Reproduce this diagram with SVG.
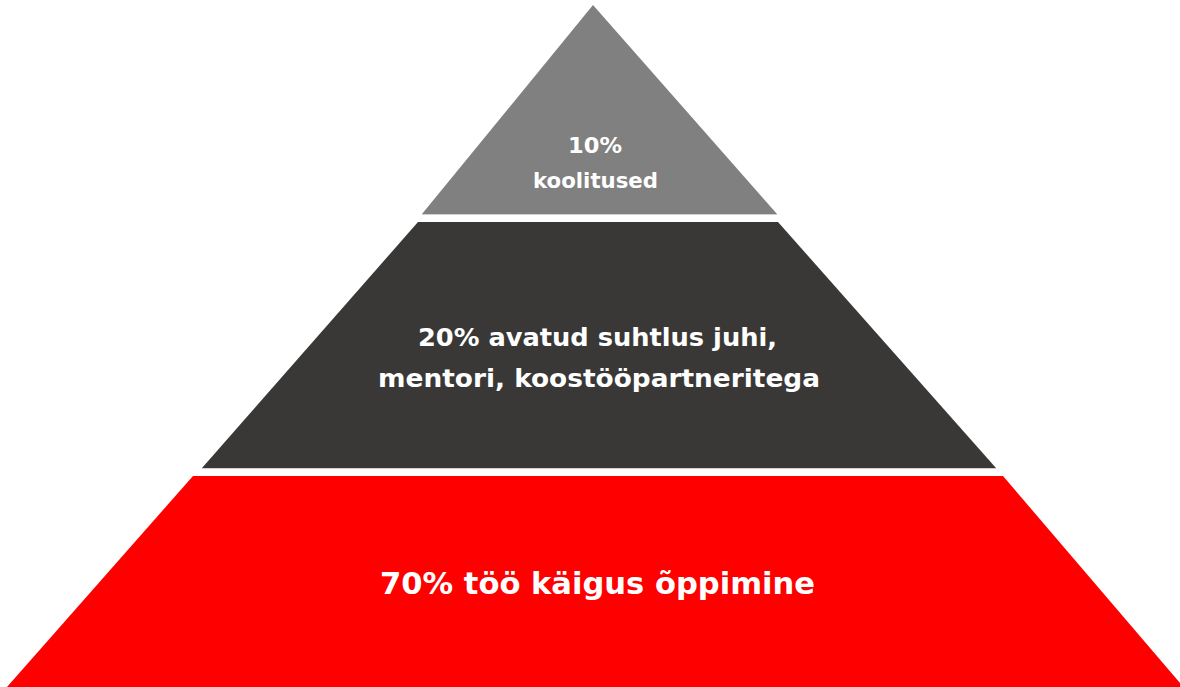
<svg xmlns="http://www.w3.org/2000/svg" width="1180" height="687" viewBox="0 0 1180 687">
<style>
.t{font-family:"DejaVu Sans","Open Sans",sans-serif;font-weight:700;fill:#ffffff;text-anchor:middle}
.edge{stroke:#d0d0d0;stroke-width:1}
</style>
<rect width="1180" height="687" fill="#ffffff"/>
<g id="top">
<polygon points="593,5 777,214 422,214" fill="#808080"/>
<line class="edge" x1="422" y1="214.5" x2="777" y2="214.5"/>
<text class="t" x="595" y="153" font-size="21" textLength="54" lengthAdjust="spacingAndGlyphs">10%</text>
<text class="t" x="595.5" y="188" font-size="21" textLength="125" lengthAdjust="spacingAndGlyphs">koolitused</text>
</g>
<g id="middle">
<polygon points="418,222 778,222 996,468 202,468" fill="#393837"/>
<line class="edge" x1="202" y1="468.5" x2="996" y2="468.5"/>
<text class="t" x="597.5" y="346" font-size="25" textLength="359" lengthAdjust="spacingAndGlyphs">20% avatud suhtlus juhi,</text>
<text class="t" x="599" y="387" font-size="25" textLength="442" lengthAdjust="spacingAndGlyphs">mentori, koostööpartneritega</text>
</g>
<g id="bottom">
<polygon points="193,476 1003,476 1180,683 1180,687 7,687" fill="#ff0000"/>
<text class="t" x="597.5" y="594" font-size="31" textLength="435" lengthAdjust="spacingAndGlyphs">70% töö käigus õppimine</text>
</g>
<g id="connectors"/>
</svg>
